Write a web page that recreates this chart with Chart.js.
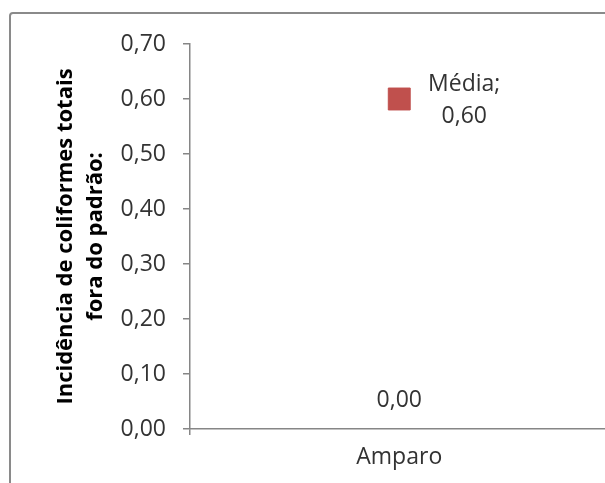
<!DOCTYPE html>
<html>
<head>
<meta charset="utf-8">
<script src="https://cdn.jsdelivr.net/npm/chart.js@4.4.1/dist/chart.umd.min.js"></script>
<style>
  html, body { margin: 0; padding: 0; background: #fff; overflow: hidden; }
  #wrap { position: relative; width: 605px; height: 483px; overflow: hidden; }
  #frame { position: absolute; left: 9px; top: 12px; width: 700px; height: 600px;
           border: 2px solid #8a8a8a; border-radius: 4px; }
  #box { position: absolute; left: 0; top: 0; width: 625px; height: 483px; }
</style>
</head>
<body>
<div id="wrap">
  <div id="frame"></div>
  <div id="box"><canvas id="chart"></canvas></div>
</div>
<script>
const categories = ["Amparo"];
const mediaValues = [0.60];
const zeroValues = [0.00];
const yTicks = [0, 0.1, 0.2, 0.3, 0.4, 0.5, 0.6, 0.7];
const axisTitle = ["Incidência de coliformes totais", "fora do padrão:"];
const mediaName = "Média";

const fmt = v => v.toFixed(2).replace(".", ",");
const textColor = "#333333";
const axisColor = "#868686";
const font = "'Open Sans', sans-serif";

// axis title and data labels drawn by hand
const extras = {
  id: "extras",
  afterDatasetsDraw(chart) {
    const ctx = chart.ctx;
    const area = chart.chartArea;
    ctx.save();
    ctx.fillStyle = "#000";
    ctx.textAlign = "center";
    ctx.textBaseline = "alphabetic";
    ctx.font = "bold 22px " + font;
    const cy = (area.top + area.bottom) / 2;
    ctx.translate(72, cy);
    ctx.rotate(-Math.PI / 2);
    ctx.fillText(axisTitle[0], 0, 0);
    ctx.fillText(axisTitle[1], 0, 30);
    ctx.restore();

    ctx.save();
    ctx.fillStyle = textColor;
    ctx.font = "23px " + font;
    ctx.textAlign = "center";
    ctx.textBaseline = "middle";
    chart.getDatasetMeta(0).data.forEach((pt, i) => {
      ctx.fillText(mediaName + ";", pt.x + 65, pt.y - 15);
      ctx.fillText(fmt(mediaValues[i]), pt.x + 65, pt.y + 17);
    });
    chart.getDatasetMeta(1).data.forEach((pt, i) => {
      ctx.fillText(fmt(zeroValues[i]), pt.x, pt.y - 29);
    });
    ctx.restore();
  }
};

new Chart(document.getElementById("chart"), {
  type: "line",
  data: {
    labels: categories,
    datasets: [
      {
        label: mediaName,
        data: mediaValues,
        showLine: false,
        pointStyle: "rect",
        pointRadius: 15.5,
        pointHoverRadius: 15.5,
        backgroundColor: "#C0504D",
        borderColor: "#C0504D",
        borderWidth: 1,
      },
      {
        label: "Zero",
        data: zeroValues,
        showLine: false,
        pointRadius: 0,
      },
    ],
  },
  plugins: [extras],
  options: {
    responsive: true,
    maintainAspectRatio: false,
    animation: false,
    layout: { padding: { left: 0, top: 44, right: 13, bottom: 0 } },
    plugins: { legend: { display: false }, tooltip: { enabled: false } },
    scales: {
      x: {
        type: "category",
        offset: true,
        border: { color: axisColor, width: 1.5 },
        grid: { offset: true, drawOnChartArea: false, color: axisColor, tickLength: 6, lineWidth: 1.5 },
        ticks: { color: textColor, font: { family: font, size: 23 }, padding: 9 },
        afterFit: s => { s.height = 54; },
      },
      y: {
        min: 0,
        max: 0.7,
        afterBuildTicks: s => { s.ticks = yTicks.map(v => ({ value: v })); },
        border: { color: axisColor, width: 1.5 },
        grid: { drawOnChartArea: false, color: axisColor, tickLength: 7, lineWidth: 1.5 },
        ticks: { color: textColor, font: { family: font, size: 23 }, padding: 17, callback: v => fmt(v) },
        afterFit: s => { s.width = 190; },
      },
    },
  },
});
</script>
</body>
</html>
